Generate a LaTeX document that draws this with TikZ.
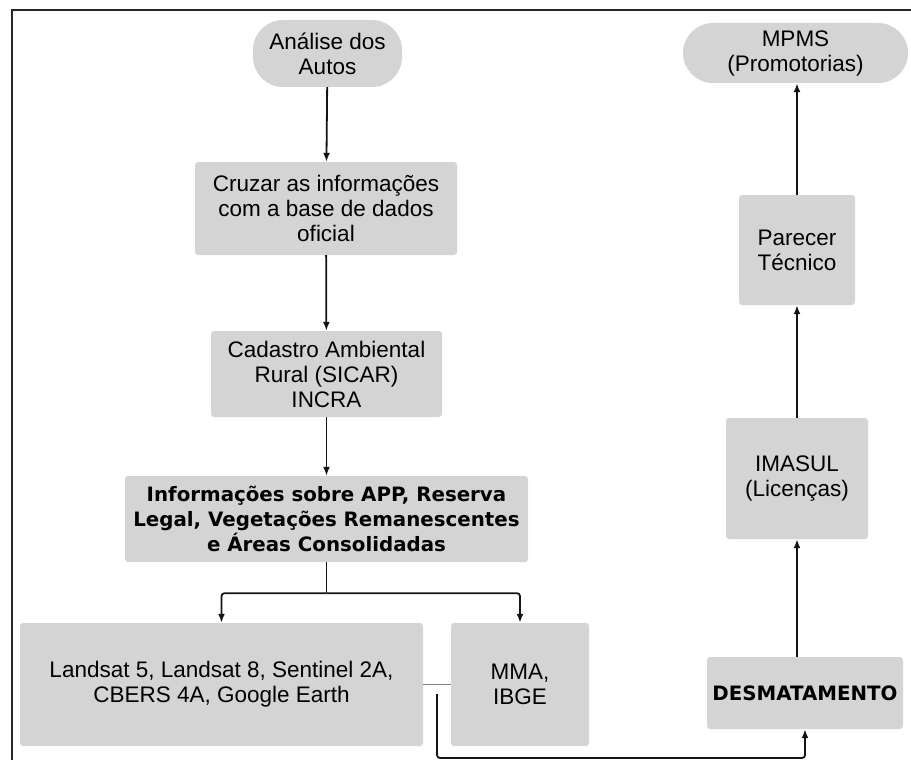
\documentclass[tikz,border=0pt]{standalone}
\usepackage{fontspec}
\setmainfont{Liberation Sans}
\newfontfamily\boldfam{DejaVu Sans}
\usetikzlibrary{arrows.meta,calc}
\definecolor{boxgray}{HTML}{D4D4D4}
\definecolor{framegray}{HTML}{262626}
\begin{document}
\begin{tikzpicture}[x=1pt,y=-1pt,
  box/.style={draw=none,fill=boxgray,rounded corners=3pt,align=center,inner sep=2pt,
    font=\fontsize{22.5}{25}\selectfont},
  term/.style={box,rounded corners=30pt},
  boldtxt/.style={font=\boldfam\bfseries\fontsize{19.8}{25}\selectfont},
  conn/.style={line width=1.8pt,draw=black!92,-{Latex[length=9pt,width=7pt]}},
  plain/.style={line width=1.8pt,draw=black!92},
  frame/.style={line width=2.2pt,draw=framegray}]
\useasboundingbox (0,0) rectangle (911,760);
\coordinate (ftl) at (12,10);
\coordinate (ftr) at (911,10);
\coordinate (fbl) at (12,760);
\draw[frame] (fbl) -- (ftl) -- (ftr);

\node[term,minimum width=149pt,minimum height=67pt] (ana) at (327.5,53.5) {Análise dos\\Autos};
\node[box,minimum width=262pt,minimum height=93pt] (cruz) at (326,208.5) {Cruzar as informações\\com a base de dados\\oficial};
\node[box,minimum width=231pt,minimum height=86pt] (cad) at (326.5,374) {Cadastro Ambiental\\Rural (SICAR)\\INCRA};
\node[box,boldtxt,minimum width=403pt,minimum height=86pt] (inf) at (326.5,519) {Informações sobre APP, Reserva\\Legal, Vegetações Remanescentes\\e Áreas Consolidadas};
\node[box,minimum width=403pt,minimum height=123pt] (land) at (221.5,684.5) {Landsat 5, Landsat 8, Sentinel 2A,\\CBERS 4A, Google Earth};
\node[box,minimum width=138pt,minimum height=123pt] (mma) at (520,684.5) {MMA,\\IBGE};
\node[box,boldtxt,minimum width=196pt,minimum height=72pt] (des) at (805,693) {DESMATAMENTO};
\node[box,minimum width=142pt,minimum height=121pt] (ima) at (797,478.5) {IMASUL\\(Licenças)};
\node[box,minimum width=116pt,minimum height=110pt] (par) at (797,250) {Parecer\\Técnico};
\node[term,minimum width=225pt,minimum height=60pt] (mpms) at (795.5,53) {MPMS\\(Promotorias)};

\draw[conn] (ana) -- (cruz);
\draw[conn] (cruz) -- (cad);
\draw[conn] (cad) -- (inf);
\draw[plain] (inf.south) -- ++(0,31) coordinate (split);
\draw[conn,rounded corners=3pt] (split) -| (land.north);
\draw[conn,rounded corners=3pt] (split) -| (mma.north);

\draw[line width=1.4pt,draw=gray] (land.east) -- (mma.east -| mma.west);
\coordinate (tap) at (437,694);
\coordinate (low) at (437,758);
\draw[conn,rounded corners=3pt] (tap) -- (low) -| (des.south);

\draw[conn] (ima.south |- des.north) -- (ima.south);
\draw[conn] (ima) -- (par);
\draw[conn] (par.north) -- (par.north |- mpms.south);
\end{tikzpicture}
\end{document}
